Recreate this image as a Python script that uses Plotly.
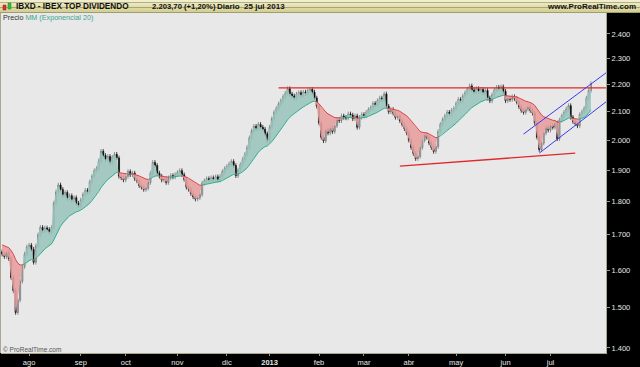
import numpy as np
import pandas as pd
import plotly.graph_objects as go

# ---------------- data ----------------
holidays = ["2012-12-25", "2012-12-26", "2013-01-01", "2013-03-29", "2013-04-01", "2013-05-01"]
dates = pd.bdate_range("2012-07-16", "2013-07-25")
dates = dates[~dates.isin(pd.to_datetime(holidays))]

jul12 = [1645, 1638, 1650, 1632, 1580, 1545, 1488, 1520, 1570, 1610, 1645, 1665]
aug12 = [1670, 1658, 1622, 1668, 1700, 1722, 1712, 1720, 1716, 1708, 1722, 1795, 1830, 1852, 1838,
         1820, 1828, 1810, 1818, 1805, 1812, 1795, 1788]
sep12 = [1805, 1822, 1835, 1830, 1862, 1880, 1898, 1905, 1930, 1962, 1948, 1935, 1945, 1925, 1942,
         1952, 1940, 1880, 1875, 1868]
oct12 = [1880, 1895, 1885, 1890, 1872, 1865, 1850, 1845, 1838, 1842, 1860, 1890, 1925, 1915, 1890,
         1880, 1868, 1872, 1860, 1875, 1882, 1878, 1885]
nov12 = [1892, 1898, 1885, 1870, 1845, 1838, 1825, 1815, 1808, 1812, 1822, 1858, 1865, 1872, 1868,
         1875, 1870, 1878, 1868, 1880, 1895, 1905]
dec12 = [1912, 1920, 1928, 1915, 1882, 1900, 1918, 1935, 1952, 1975, 2008, 2032, 2048, 2040, 2055,
         2045, 2038, 2022, 2000]
jan13 = [2045, 2075, 2098, 2112, 2128, 2140, 2155, 2168, 2185, 2165, 2158, 2150, 2165, 2170, 2160,
         2172, 2168, 2178, 2182, 2172, 2150, 2120]
feb13 = [2060, 2010, 1998, 2035, 2025, 2042, 2030, 2050, 2072, 2068, 2085, 2080, 2078, 2092, 2088,
         2075, 2085, 2045, 2080, 2090]
mar13 = [2085, 2098, 2108, 2115, 2130, 2125, 2140, 2150, 2145, 2165, 2120, 2100, 2108, 2095, 2080,
         2085, 2068, 2055, 2040, 2025]
apr13 = [2000, 1975, 1955, 1938, 1945, 1975, 2000, 2018, 2010, 1990, 1975, 1962, 1978, 2030, 2055,
         2072, 2085, 2098, 2092, 2105, 2112]
may13 = [2130, 2145, 2140, 2158, 2170, 2182, 2195, 2180, 2172, 2185, 2175, 2182, 2170, 2178, 2150,
         2140, 2162, 2180, 2190, 2185, 2192, 2175]
jun13 = [2140, 2150, 2145, 2155, 2148, 2135, 2118, 2105, 2098, 2110, 2118, 2105, 2095, 2060, 2010,
         1968, 1990, 2025, 2045, 2035]
jul13 = [2050, 2045, 2060, 2005, 2070, 2085, 2098, 2110, 2122, 2080, 2065, 2058, 2050, 2090, 2100,
         2112, 2150, 2177.6, 2203.7]

month_names = {1: "2013", 2: "feb", 3: "mar", 4: "abr", 5: "may", 6: "jun", 7: "jul",
               8: "ago", 9: "sep", 10: "oct", 11: "nov", 12: "dic"}
y_ticks = [1400, 1500, 1600, 1700, 1800, 1900, 2000, 2100, 2200, 2300, 2400]
y_ticktext = ["1.400", "1.500", "1.600", "1.700", "1.800", "1.900", "2.000",
              "2.100", "2.200", "2.300", "2.400"]

ema_seed = 1671
ema_span = 20

# hand-drawn trend lines (date, value); "edge" = right edge of chart
resist_line = [("2013-01-08", 2188), ("edge", 2188)]
support_line = [("2013-03-25", 1913), ("2013-07-16", 1956)]
chan_upper = [("2013-06-13", 2021), ("edge", 2245)]
chan_lower = [("2013-06-24", 1956), ("edge", 2136)]

# ---------------- derived ----------------
close = np.array(jul12 + aug12 + sep12 + oct12 + nov12 + dec12 + jan13 + feb13 + mar13 +
                 apr13 + may13 + jun13 + jul13, dtype=float)
n = len(dates)
assert len(close) == n, (len(close), n)
x = np.arange(n, dtype=float)
x_min, x_max = -0.5, 268.7

opn = np.concatenate([[close[0] * 1.004], close[:-1]])
wick = 0.004
high = np.maximum(opn, close) * (1 + wick)
low = np.minimum(opn, close) * (1 - wick)

alpha = 2.0 / (ema_span + 1)
ema = np.empty(n)
ema[0] = ema_seed
for i in range(1, n):
    ema[i] = ema[i - 1] + alpha * (close[i] - ema[i - 1])

# month ticks
tickvals, ticktext = [], []
for i in range(1, n):
    if dates[i].month != dates[i - 1].month:
        tickvals.append(i)
        ticktext.append("<b>2013</b>" if dates[i].month == 1 else month_names[dates[i].month])

def date_idx(d):
    if d == "edge":
        return x_max
    return float(dates.get_loc(pd.Timestamp(d)))

# ---------------- figure ----------------
GREEN_FILL = "rgba(152,195,188,0.85)"
GREEN_LINE = "#2fb08c"
RED_FILL = "rgba(232,160,160,0.9)"
RED_LINE = "#e0404a"

fig = go.Figure()

d = close - ema
segments = []
cur_sign = np.sign(d[0]) if d[0] != 0 else 1
sx, sc, se = [x[0]], [close[0]], [ema[0]]
for i in range(1, n):
    s = np.sign(d[i]) if d[i] != 0 else cur_sign
    if s != cur_sign:
        t = d[i - 1] / (d[i - 1] - d[i])
        xc = x[i - 1] + t
        yc = close[i - 1] + t * (close[i] - close[i - 1])
        sx.append(xc); sc.append(yc); se.append(yc)
        segments.append((cur_sign, sx, sc, se))
        sx, sc, se = [xc], [yc], [yc]
        cur_sign = s
    sx.append(x[i]); sc.append(close[i]); se.append(ema[i])
segments.append((cur_sign, sx, sc, se))

for s, sx_, sc_, se_ in segments:
    px_ = list(sx_) + list(sx_[::-1])
    py_ = list(sc_) + list(se_[::-1])
    fig.add_trace(go.Scatter(x=px_, y=py_, fill="toself", mode="lines",
                             line=dict(width=0), fillcolor=GREEN_FILL if s > 0 else RED_FILL,
                             hoverinfo="skip", showlegend=False))

for col, sign in ((GREEN_LINE, 1), (RED_LINE, -1)):
    lx, ly = [], []
    for s, sx_, sc_, se_ in segments:
        if s == sign:
            lx += list(sx_) + [None]
            ly += list(se_) + [None]
    fig.add_trace(go.Scatter(x=lx, y=ly, mode="lines", line=dict(color=col, width=1),
                             hoverinfo="skip", showlegend=False))

fig.add_trace(go.Candlestick(
    x=x, open=opn, high=high, low=low, close=close,
    increasing=dict(line=dict(color="#6e6e6e", width=0.7), fillcolor="#c4c4c4"),
    decreasing=dict(line=dict(color="#000000", width=0.7), fillcolor="#1a1a1a"),
    whiskerwidth=0, hoverinfo="skip", showlegend=False))

for pts, col, w in ((resist_line, "#e02828", 1.4), (support_line, "#e02828", 1.4),
                    (chan_upper, "#3a3af0", 1), (chan_lower, "#3a3af0", 1)):
    fig.add_trace(go.Scatter(x=[date_idx(p[0]) for p in pts], y=[p[1] for p in pts],
                             mode="lines", line=dict(color=col, width=w),
                             hoverinfo="skip", showlegend=False))

# ---------------- layout ----------------
W, H = 640, 367
L, R, T, B = 1, 34, 13, 14
PW, PH = W - L - R, H - T - B

def pxx(p):
    return (p - L) / PW

def pxy(p):
    return (H - B - p) / PH

shapes = []
stripes = ["#f1eecb", "#ebe7bb", "#e4e0ad", "#dcd8a0", "#d5d196"]
for k, c in enumerate(stripes):
    shapes.append(dict(type="rect", xref="paper", yref="paper", x0=pxx(0), x1=pxx(W),
                       y0=pxy(k * 2.5), y1=pxy((k + 1) * 2.5), fillcolor=c, line=dict(width=0),
                       layer="above"))
shapes.append(dict(type="line", xref="paper", yref="paper", x0=pxx(0), x1=pxx(W),
                   y0=pxy(12.5), y1=pxy(12.5), line=dict(color="#a09c70", width=1)))
shapes.append(dict(type="rect", xref="paper", yref="paper", x0=pxx(3), x1=pxx(6),
                   y0=pxy(10), y1=pxy(5), fillcolor="#e03030", line=dict(color="#902020", width=0.5)))
shapes.append(dict(type="rect", xref="paper", yref="paper", x0=pxx(8), x1=pxx(11),
                   y0=pxy(9), y1=pxy(3), fillcolor="#30c040", line=dict(color="#208020", width=0.5)))
shapes.append(dict(type="line", xref="paper", yref="paper", x0=pxx(0.5), x1=pxx(0.5),
                   y0=0, y1=1, line=dict(color="#a8a890", width=1)))

FONT = "Liberation Sans"
ann = []
ann.append(dict(text="<b>IBXD - IBEX TOP DIVIDENDO</b>", x=pxx(14), y=pxy(6.5), size=8.2))
ann.append(dict(text="<b>2.203,70 (+1,20%)</b>", x=pxx(150), y=pxy(6.5), size=7.7))
ann.append(dict(text="<b>Diario  25 jul 2013</b>", x=pxx(215), y=pxy(6.5), size=8.0))
ann.append(dict(text="<b>www.ProRealTime.com</b>", x=pxx(638), y=pxy(6.5), size=8.0, xanchor="right"))
for a in ann:
    sz = a.pop("size")
    a.update(xref="paper", yref="paper", showarrow=False, yanchor="middle",
             font=dict(family=FONT, size=sz, color="#111"))
    a.setdefault("xanchor", "left")
ann.append(dict(text="Precio <span style='color:#3aa58f'>MM (Exponencial 20)</span>",
                x=pxx(1), y=pxy(18), xref="paper", yref="paper", showarrow=False,
                xanchor="left", yanchor="middle", font=dict(family=FONT, size=7.2, color="#333")))
ann.append(dict(text="© ProRealTime.com", x=pxx(1), y=pxy(349), xref="paper", yref="paper",
                showarrow=False, xanchor="left", yanchor="middle",
                font=dict(family=FONT, size=6.5, color="#555")))

fig.update_layout(
    width=W, height=H,
    margin=dict(l=L, r=R, t=T, b=B, pad=0, autoexpand=False),
    paper_bgcolor="#000000", plot_bgcolor="#e8e8e8",
    shapes=shapes, annotations=ann, showlegend=False,
    xaxis=dict(range=[x_min, x_max], tickvals=tickvals, ticktext=ticktext,
               showgrid=False, zeroline=False, rangeslider=dict(visible=False),
               ticks="outside", ticklen=2, tickcolor="#999", showline=True,
               linecolor="#a8a890", linewidth=1,
               tickfont=dict(family=FONT, size=7.5, color="#e6e6e6")),
    yaxis=dict(type="log", range=[np.log10(1388), np.log10(2488)], side="right",
               tickvals=y_ticks, ticktext=y_ticktext, showgrid=False, zeroline=False,
               ticks="outside", ticklen=3, tickcolor="#999", showline=True,
               linecolor="#a8a890", linewidth=1,
               tickfont=dict(family=FONT, size=7.5, color="#e6e6e6")),
)

fig.write_html("out.html")
